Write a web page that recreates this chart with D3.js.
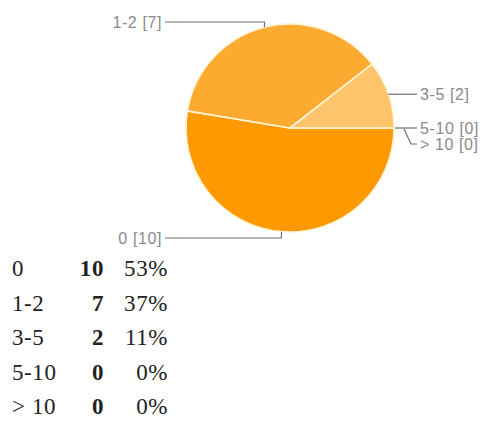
<!DOCTYPE html>
<html><head><meta charset="utf-8">
<script src="https://cdn.jsdelivr.net/npm/d3@7"></script>
<style>body{margin:0;background:#fff}svg{display:block}</style>
</head><body>
<script>
const categories = ["0", "1-2", "3-5", "5-10", "> 10"];
const counts = [10, 7, 2, 0, 0];
const percents = ["53%", "37%", "11%", "0%", "0%"];
const sliceColors = ["#FF9900", "#FDAA30", "#FDC46C", "#FFD9A0", "#FFE6C0"];

const W = 482, H = 421;
const svg = d3.select("body").append("svg").attr("width", W).attr("height", H);

const cx = 290, cy = 128, r = 104;
const pie = d3.pie().value(d => d.v).sort(null)
  .startAngle(Math.PI / 2).endAngle(Math.PI / 2 + 2 * Math.PI);
const data = categories.map((c, i) => ({c, v: counts[i], i}));
const arcs = pie(data);
const arc = d3.arc().innerRadius(0).outerRadius(r);
const g = svg.append("g").attr("transform", `translate(${cx},${cy})`);
g.selectAll("path").data(arcs.filter(a => a.data.v > 0)).join("path")
  .attr("d", arc)
  .attr("fill", a => sliceColors[a.index])
  .attr("stroke", "#FFF3D6").attr("stroke-width", 1.6).attr("stroke-linejoin", "round");

// leader lines and labels
const rim = a => {
  const m = (a.startAngle + a.endAngle) / 2;
  return [Math.sin(m) * r, -Math.cos(m) * r];
};
const lab = svg.append("g").attr("font-family", "'Liberation Sans', Arial, sans-serif")
  .attr("font-size", 16).attr("fill", "#8a8a8a").attr("letter-spacing", 0.6);
const lineCol = "#6e6e6e";
let rightStack = 0;
arcs.forEach(a => {
  const [px, py] = rim(a);
  const x0 = cx + px, y0 = cy + py;
  const text = `${a.data.c} [${a.data.v}]`;
  if (px < -1) {
    // left side: vertical then horizontal
    const ly = py < 0 ? cy - r - 2 : cy + r + 6;
    const lx = cx - 125;
    lab.append("path").attr("d", `M${x0},${y0}V${ly}H${lx}`)
      .attr("fill", "none").attr("stroke", lineCol).attr("stroke-width", 1.2);
    lab.append("text").attr("x", lx - 3).attr("y", ly).attr("dy", "0.35em")
      .attr("text-anchor", "end").text(text);
  } else {
    const lx = cx + 127;
    if (a.data.v === 0) {
      const ly = y0 + rightStack * 16;
      if (rightStack === 0) {
        lab.append("path").attr("d", `M${x0 + 1},${y0}H${lx}`)
          .attr("fill", "none").attr("stroke", lineCol).attr("stroke-width", 1.2);
      } else {
        lab.append("path").attr("d", `M${x0 + 10},${y0 + 1}L${x0 + 17},${ly}H${lx}`)
          .attr("fill", "none").attr("stroke", lineCol).attr("stroke-width", 1.2);
      }
      lab.append("text").attr("x", lx + 3).attr("y", ly).attr("dy", "0.35em").text(text);
      rightStack++;
    } else {
      lab.append("path").attr("d", `M${x0},${y0}H${lx}`)
        .attr("fill", "none").attr("stroke", lineCol).attr("stroke-width", 1.2);
      lab.append("text").attr("x", lx + 3).attr("y", y0).attr("dy", "0.35em").text(text);
    }
  }
});

// summary table
const rowY = d3.scalePoint().domain(categories).range([276, 414]);
const t = svg.append("g").attr("font-family", "'Liberation Serif', 'Times New Roman', serif")
  .attr("font-size", 23).attr("fill", "#222").attr("letter-spacing", 0.6);
categories.forEach((c, i) => {
  const y = rowY(c);
  t.append("text").attr("x", 12).attr("y", y).text(c);
  t.append("text").attr("x", 104).attr("y", y).attr("text-anchor", "end")
    .attr("font-weight", "bold").text(counts[i]);
  t.append("text").attr("x", 168).attr("y", y).attr("text-anchor", "end").text(percents[i]);
});
</script>
</body></html>
